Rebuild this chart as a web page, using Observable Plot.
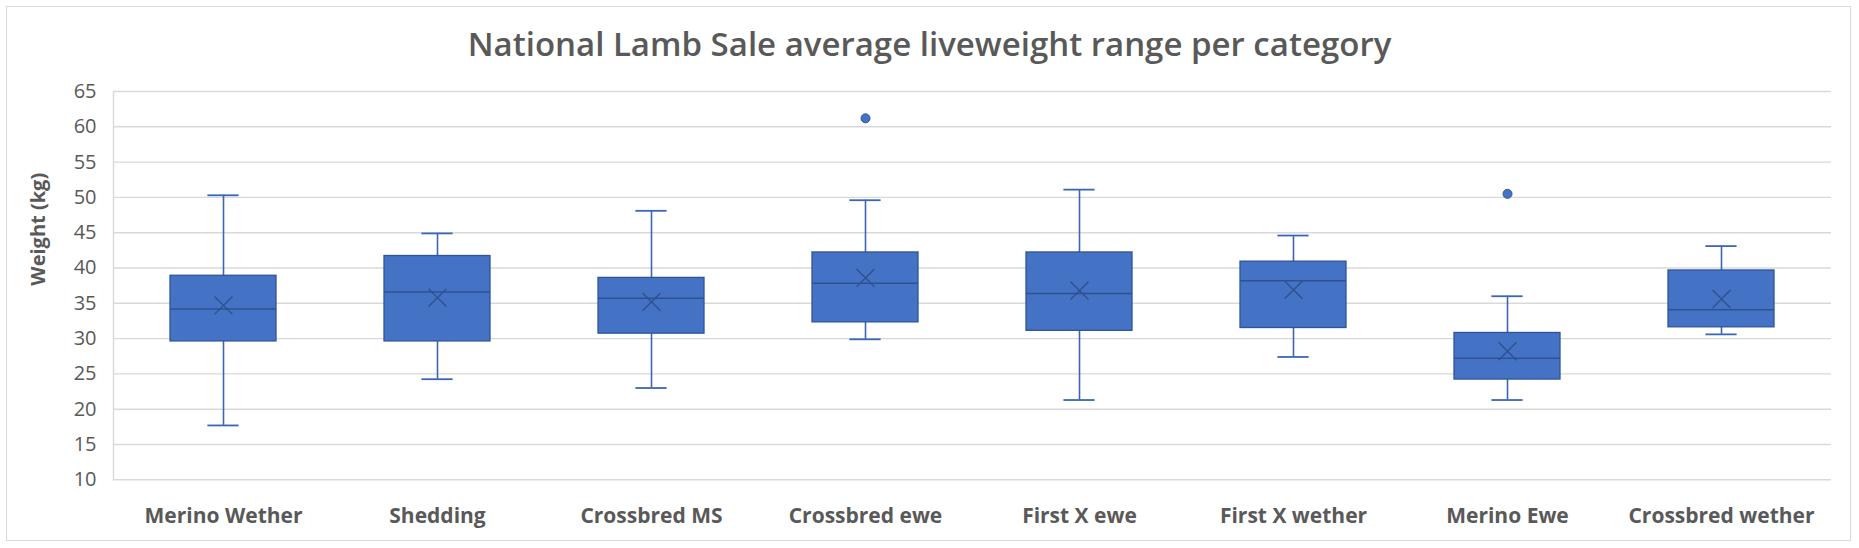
<!DOCTYPE html>
<html>
<head>
<meta charset="utf-8">
<script src="https://cdn.jsdelivr.net/npm/d3@7"></script>
<script src="https://cdn.jsdelivr.net/npm/@observablehq/plot@0.6"></script>
<style>
  html, body { margin: 0; padding: 0; background: #ffffff; }
  #chart { position: relative; width: 1859px; height: 548px; overflow: hidden; background: #fff; }
  #border { position: absolute; left: 6px; top: 6px; width: 1845px; height: 535px; box-sizing: border-box; border: 1.5px solid #d9d9d9; pointer-events: none; }
  #title { height: 70px; box-sizing: border-box; padding-top: 21px; text-align: center; font-family: "Open Sans", sans-serif; font-weight: 600; font-size: 33px; line-height: normal; color: #595959; white-space: nowrap; }
</style>
</head>
<body>
<div id="chart">
  <div id="border"></div>
  <div id="title">National Lamb Sale average liveweight range per category</div>
</div>
<script>
// ---- data ----
const categories = ["Merino Wether", "Shedding", "Crossbred MS", "Crossbred ewe", "First X ewe", "First X wether", "Merino Ewe", "Crossbred wether"];
const whiskerLow  = [17.7, 24.25, 23.0, 29.9, 21.3, 27.4, 21.3, 30.6];
const quartile1   = [29.6, 29.6, 30.7, 32.3, 31.1, 31.5, 24.2, 31.6];
const median      = [34.2, 36.6, 35.7, 37.85, 36.4, 38.2, 27.2, 34.1];
const quartile3   = [38.9, 41.7, 38.6, 42.2, 42.2, 40.9, 30.8, 39.65];
const whiskerHigh = [50.3, 44.9, 48.1, 49.6, 51.1, 44.6, 36.0, 43.1];
const mean        = [34.7, 35.8, 35.2, 38.6, 36.8, 36.9, 28.2, 35.6];
const outlierCategory = ["Crossbred ewe", "Merino Ewe"];
const outlierValue    = [61.2, 50.5];
const yTicks = [10, 15, 20, 25, 30, 35, 40, 45, 50, 55, 60, 65];
const yLabel = "Weight (kg)";

const boxes = categories.map((c, i) => ({
  cat: c, lo: whiskerLow[i], q1: quartile1[i], med: median[i], q3: quartile3[i], hi: whiskerHigh[i], mean: mean[i]
}));
const outliers = outlierCategory.map((c, i) => ({cat: c, v: outlierValue[i]}));

const fillBlue = "#4472C4";
const edgeBlue = "#2F5597";
const whiskerBlue = "#3B66B3";
const darkBlue = "#2F528F";

const chart = Plot.plot({
  width: 1859,
  height: 478,
  marginTop: 21,
  marginBottom: 68.7,
  marginLeft: 113,
  marginRight: 28,
  style: {fontFamily: "'Open Sans', sans-serif", fontSize: "20px", color: "#595959", background: "transparent", overflow: "visible"},
  x: {type: "band", domain: categories, padding: 0},
  y: {domain: [10, 65]},
  marks: [
    Plot.ruleY(yTicks, {stroke: "#d9d9d9", strokeWidth: 1.4}),
    Plot.frame({anchor: "left", stroke: "#d9d9d9", strokeWidth: 1.4}),
    Plot.axisY({ticks: yTicks, tickSize: 0, tickPadding: 17, label: null, fill: "#595959"}),
    Plot.axisX({tickSize: 0, tickPadding: 28, label: null, fill: "#595959", fontSize: 21, fontWeight: "bold"}),
    Plot.text([yLabel], {text: d => d, frameAnchor: "left", rotate: -90, dx: -75, fontSize: 20, fontWeight: "bold", fill: "#595959"}),
    Plot.ruleX(boxes, {x: "cat", y1: "lo", y2: "q1", stroke: whiskerBlue, strokeWidth: 1.6}),
    Plot.ruleX(boxes, {x: "cat", y1: "q3", y2: "hi", stroke: whiskerBlue, strokeWidth: 1.6}),
    Plot.tickY(boxes, {x: "cat", y: "lo", insetLeft: 91.4, insetRight: 91.4, stroke: whiskerBlue, strokeWidth: 1.8}),
    Plot.tickY(boxes, {x: "cat", y: "hi", insetLeft: 91.4, insetRight: 91.4, stroke: whiskerBlue, strokeWidth: 1.8}),
    Plot.barY(boxes, {x: "cat", y1: "q1", y2: "q3", insetLeft: 54, insetRight: 54, fill: fillBlue, stroke: edgeBlue, strokeWidth: 1.3}),
    Plot.tickY(boxes, {x: "cat", y: "med", insetLeft: 54, insetRight: 54, stroke: darkBlue, strokeWidth: 1.5}),
    Plot.dot(boxes, {x: "cat", y: "mean", symbol: "times", r: 8.2, stroke: darkBlue, strokeWidth: 1.4}),
    Plot.dot(outliers, {x: "cat", y: "v", r: 4.5, fill: fillBlue, stroke: edgeBlue, strokeWidth: 1})
  ]
});
document.getElementById("chart").appendChild(chart);
</script>
</body>
</html>
